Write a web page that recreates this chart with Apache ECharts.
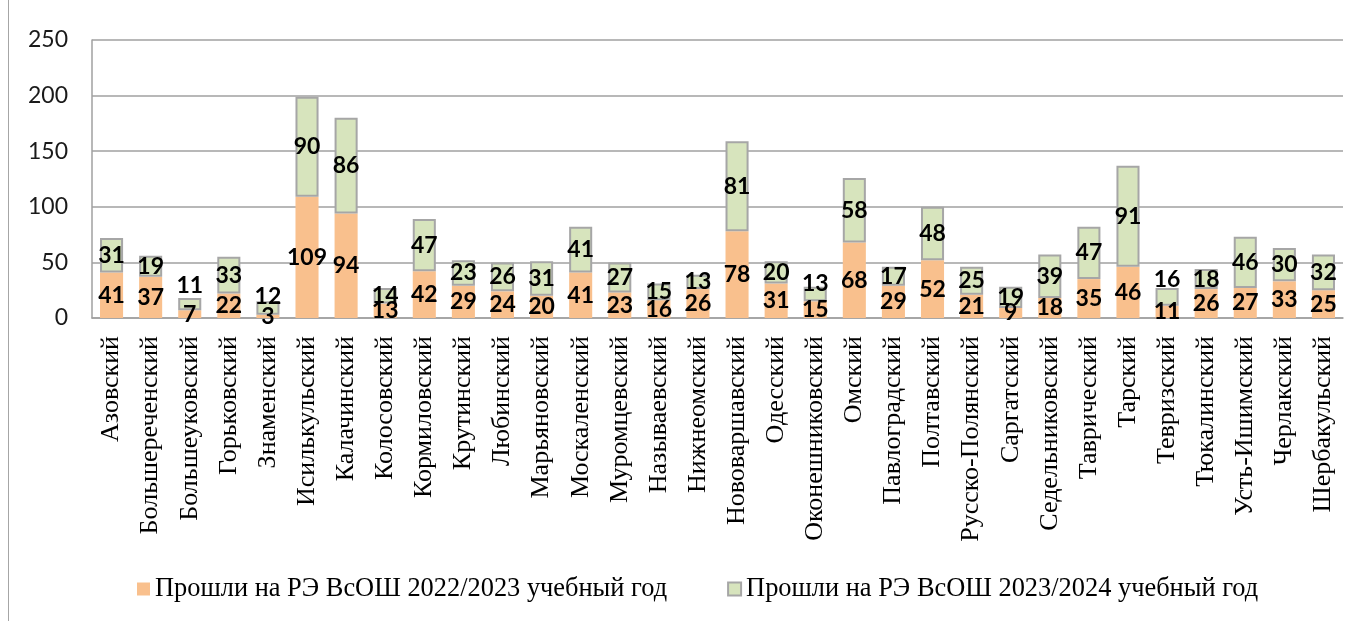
<!DOCTYPE html>
<html>
<head>
<meta charset="utf-8">
<script src="https://cdn.jsdelivr.net/npm/echarts@6/dist/echarts.min.js"></script>
<style>
  html, body { margin: 0; padding: 0; background: #fff; }
  #chart { width: 1362px; height: 621px; }
  #frame { position: absolute; left: 8px; top: 0; width: 1px; height: 621px; background: #a6a6a6; }
</style>
</head>
<body>
<div id="chart"></div>
<div id="frame"></div>
<script>
  const districts = ['Азовский', 'Большереченский', 'Большеуковский', 'Горьковский', 'Знаменский',
    'Исилькульский', 'Калачинский', 'Колосовский', 'Кормиловский', 'Крутинский', 'Любинский',
    'Марьяновский', 'Москаленский', 'Муромцевский', 'Называевский', 'Нижнеомский',
    'Нововаршавский', 'Одесский', 'Оконешниковский', 'Омский', 'Павлоградский', 'Полтавский',
    'Русско-Полянский', 'Саргатский', 'Седельниковский', 'Таврический', 'Тарский',
    'Тевризский', 'Тюкалинский', 'Усть-Ишимский', 'Черлакский', 'Шербакульский'];

  const passed2022 = [41, 37, 7, 22, 3, 109, 94, 13, 42, 29, 24, 20, 41, 23, 16, 26,
    78, 31, 15, 68, 29, 52, 21, 9, 18, 35, 46, 11, 26, 27, 33, 25];
  const passed2023 = [31, 19, 11, 33, 12, 90, 86, 14, 47, 23, 26, 31, 41, 27, 15, 13,
    81, 20, 13, 58, 17, 48, 25, 19, 39, 47, 91, 16, 18, 46, 30, 32];

  const seriesNames = ['Прошли на РЭ ВсОШ 2022/2023 учебный год', 'Прошли на РЭ ВсОШ 2023/2024 учебный год'];
  const yTicks = { min: 0, max: 250, interval: 50 };

  // a few green labels were moved up in the original, above the small bars
  const liftedLabels = { 2: -19, 4: -11, 18: -11, 27: -17 };

  let myChart = echarts.init(document.getElementById('chart'));
  let labelStyle = {
    show: true,
    position: 'inside',
    color: '#000',
    fontFamily: 'Lato',
    fontWeight: 'bold',
    fontSize: 23
  };
  let greenData = passed2023.map(function (v, i) {
    if (liftedLabels[i] !== undefined) {
      return { value: v, label: { offset: [0, liftedLabels[i]] } };
    }
    return v;
  });

  let option = {
    animation: false,
    grid: {
      left: 92,
      right: 19,
      top: 40,
      bottom: 303
    },
    legend: {
      left: 132,
      top: 571,
      itemWidth: 13,
      itemHeight: 13,
      itemGap: 60,
      icon: 'rect',
      textStyle: {
        fontFamily: 'Liberation Serif',
        fontSize: 26.4,
        color: '#000'
      },
      data: seriesNames
    },
    xAxis: {
      type: 'category',
      data: districts,
      axisLine: { lineStyle: { color: '#a0a0a0', width: 1.5 } },
      axisTick: { show: false },
      axisLabel: {
        rotate: 90,
        interval: 0,
        margin: 18,
        fontFamily: 'Liberation Serif',
        fontSize: 26,
        color: '#000'
      }
    },
    yAxis: {
      type: 'value',
      min: yTicks.min,
      max: yTicks.max,
      interval: yTicks.interval,
      axisLine: { show: true, lineStyle: { color: '#a0a0a0', width: 1.5 } },
      axisTick: { show: false },
      axisLabel: {
        margin: 24,
        fontFamily: 'Lato',
        fontSize: 23,
        color: '#1a1a1a'
      },
      splitLine: { lineStyle: { color: '#a0a0a0', width: 1.5 } }
    },
    series: [
      {
        name: seriesNames[0],
        type: 'bar',
        stack: 'total',
        barWidth: '59%',
        itemStyle: { color: '#f9c08d' },
        label: labelStyle,
        data: passed2022
      },
      {
        name: seriesNames[1],
        type: 'bar',
        stack: 'total',
        barWidth: '59%',
        itemStyle: { color: '#d7e4bd', borderColor: '#a6a6a6', borderWidth: 2 },
        label: labelStyle,
        data: greenData
      }
    ]
  };

  myChart.setOption(option);
</script>
</body>
</html>
